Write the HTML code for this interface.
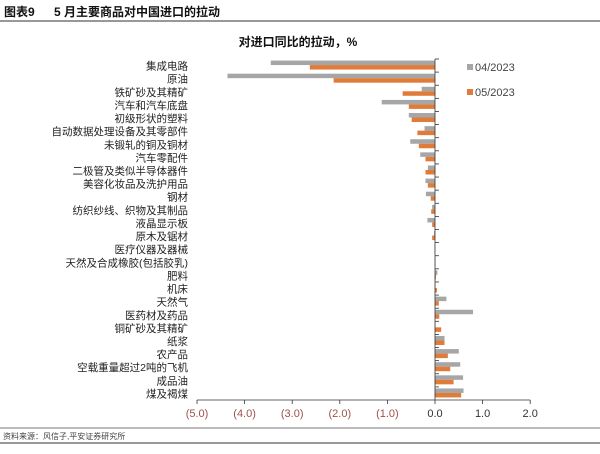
<!DOCTYPE html>
<html><head><meta charset="utf-8"><style>
body{margin:0;width:600px;height:449px;background:#fff;overflow:hidden;font-family:"Liberation Sans","Noto Sans CJK SC",sans-serif}
</style></head><body>
<svg width="600" height="449" xmlns="http://www.w3.org/2000/svg" font-family="Liberation Sans, Noto Sans CJK SC, sans-serif">
<text x="4" y="16" font-size="12" font-weight="bold" fill="#111">图表9</text>
<text x="54" y="16" font-size="12" font-weight="bold" fill="#111">5 月主要商品对中国进口的拉动</text>
<line x1="0" y1="21" x2="600" y2="21" stroke="#777" stroke-width="1.5"/>
<text x="298" y="46" font-size="12" font-weight="bold" text-anchor="middle" fill="#111">对进口同比的拉动，%</text>
<g id="plot"></g>
<rect x="467" y="64" width="6" height="6" fill="#a6a6a6"/>
<text x="475" y="71" font-size="11" fill="#444">04/2023</text>
<rect x="467" y="89" width="6" height="6" fill="#e07b39"/>
<text x="475" y="96" font-size="11" fill="#444">05/2023</text>
<line x1="0" y1="428" x2="600" y2="428" stroke="#777" stroke-width="1"/>
<text x="3" y="439" font-size="8" fill="#444">资料来源：风信子,平安证券研究所</text>
<line x1="0" y1="443" x2="600" y2="443" stroke="#333" stroke-width="1"/>
</svg>
<script>
const categories=["集成电路","原油","铁矿砂及其精矿","汽车和汽车底盘","初级形状的塑料","自动数据处理设备及其零部件","未锻轧的铜及铜材","汽车零配件","二极管及类似半导体器件","美容化妆品及洗护用品","钢材","纺织纱线、织物及其制品","液晶显示板","原木及锯材","医疗仪器及器械","天然及合成橡胶(包括胶乳)","肥料","机床","天然气","医药材及药品","铜矿砂及其精矿","纸浆","农产品","空载重量超过2吨的飞机","成品油","煤及褐煤"];
const aprValues=[-3.45,-4.36,-0.28,-1.12,-0.55,-0.22,-0.52,-0.31,-0.15,-0.20,-0.19,-0.06,-0.16,-0.02,-0.01,0.01,0.05,0.01,0.24,0.80,0.01,0.20,0.50,0.53,0.59,0.60];
const mayValues=[-2.63,-2.13,-0.68,-0.55,-0.49,-0.37,-0.34,-0.20,-0.20,-0.15,-0.09,-0.08,-0.06,-0.06,-0.01,0.01,0.02,0.04,0.08,0.09,0.13,0.20,0.27,0.32,0.39,0.55];
const tickValues=[-5,-4,-3,-2,-1,0,1,2];
const tickLabels=["(5.0)","(4.0)","(3.0)","(2.0)","(1.0)","0.0","1.0","2.0"];
const NS="http://www.w3.org/2000/svg";
const g=document.getElementById('plot');
const x0=435,ppu=47.6,plotTop=59,plotBottom=400;
const xs=v=>x0+v*ppu;
const band=(plotBottom-plotTop)/categories.length;
const yc=i=>plotTop+band*(i+0.5);
function mk(t,a){const e=document.createElementNS(NS,t);for(const k in a)e.setAttribute(k,a[k]);g.appendChild(e);return e;}
categories.forEach((c,i)=>{
  const y=yc(i);
  let r=mk('rect',{x:Math.min(xs(0),xs(aprValues[i])),y:y-5,width:Math.abs(xs(aprValues[i])-xs(0)),height:4.5,fill:'#a6a6a6'});
  
  
  let r2=mk('rect',{x:Math.min(xs(0),xs(mayValues[i])),y:y-0.5,width:Math.abs(xs(mayValues[i])-xs(0)),height:4.5,fill:'#e07b39'});
  
  
  let t=mk('text',{x:188,y:y+4,'font-size':10.5,'text-anchor':'end',fill:'#222'});
  t.textContent=c;
  
  
  let tk=mk('line',{x1:x0,x2:x0+4,y1:plotTop+band*i,y2:plotTop+band*i,stroke:'#333','stroke-width':0.8});
  
  
});
let ya=mk('line',{x1:x0,x2:x0,y1:plotTop,y2:plotBottom,stroke:'#333','stroke-width':0.8});


let xa=mk('line',{x1:xs(-5),x2:xs(2),y1:plotBottom,y2:plotBottom,stroke:'#333','stroke-width':0.8});


tickValues.forEach((v,i)=>{
  let l=mk('line',{x1:xs(v),x2:xs(v),y1:plotBottom,y2:plotBottom+4,stroke:'#333','stroke-width':0.8});
  
  
  let t=mk('text',{x:xs(v),y:plotBottom+17,'font-size':11,'text-anchor':'middle',fill:v<0?'#a0504a':'#333'});
  t.textContent=tickLabels[i];
  
  
});
</script>
</body></html>
